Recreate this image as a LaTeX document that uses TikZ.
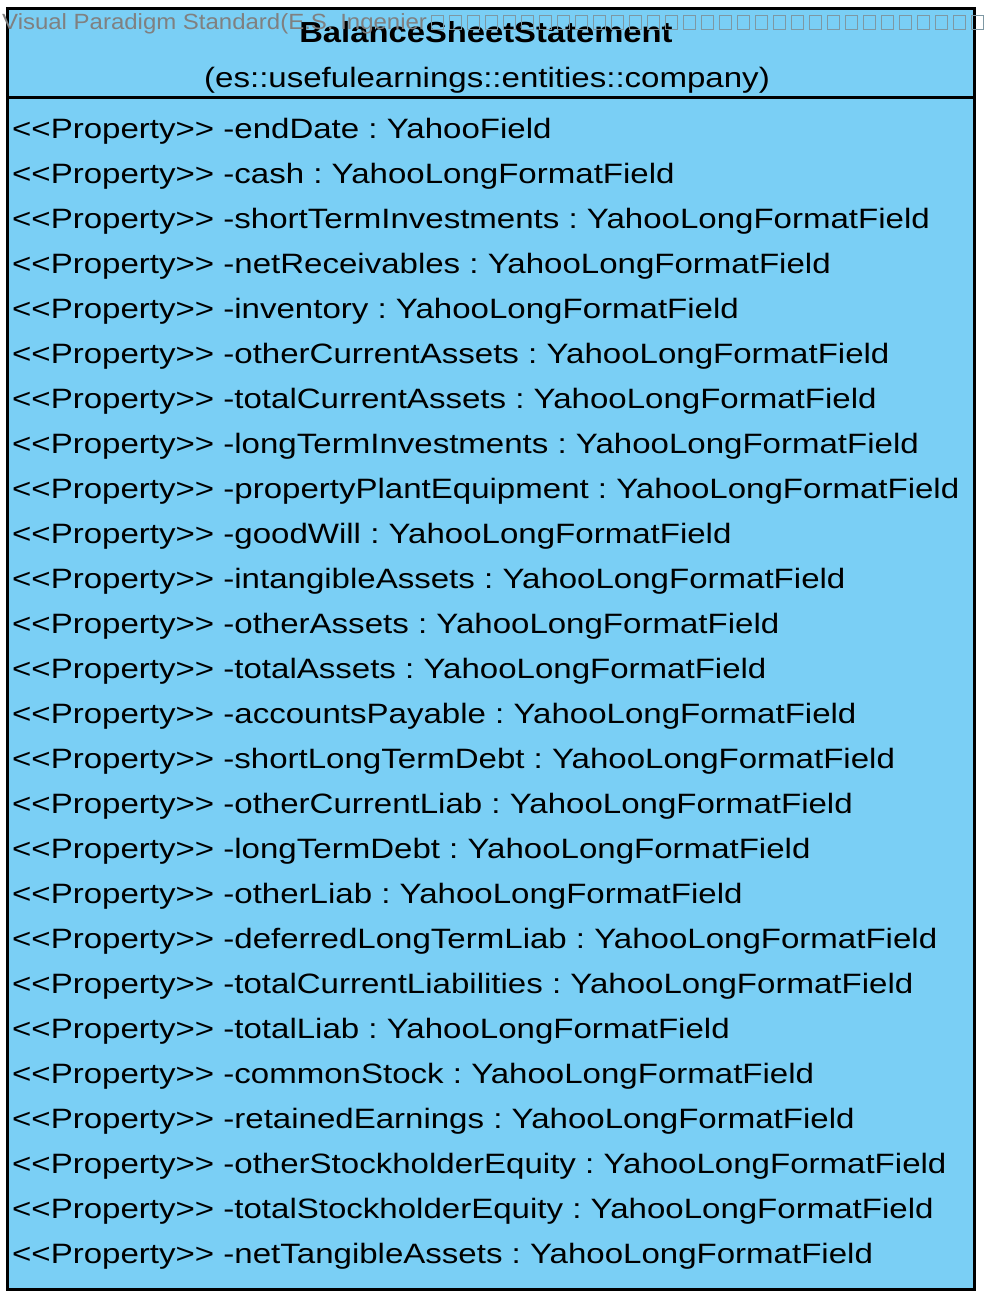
\documentclass[tikz,border=0pt]{standalone}
\usepackage{fontspec}
\setmainfont{Liberation Sans}[FakeStretch=1.18]
\newfontfamily\titlefont{Liberation Sans Bold}[FakeStretch=1.13]
\newfontfamily\markfont{Liberation Sans}[FakeStretch=1.09]
\usepackage{tikz}
\frenchspacing

\definecolor{classblue}{HTML}{7ACFF5}
\definecolor{markgray}{HTML}{808080}

\tikzset{
	prop/.style={anchor=base west, inner sep=0pt, font=\fontsize{28}{28}\selectfont},
	tofu/.style={draw=markgray!70!classblue, line width=0.8pt}
}

\begin{document}
\begin{tikzpicture}[x=1pt,y=-1pt]
	\useasboundingbox (0,0) rectangle (987,1302);
	\node[draw=black, fill=classblue, line width=3pt, inner sep=0pt, minimum width=967pt, minimum height=1281pt] (cls) at (491,649) {};
	\draw[line width=3pt] (cls.west |- 0,97) -- (cls.east |- 0,97);
	\node[anchor=base, inner sep=0pt, font=\titlefont\fontsize{29}{29}\selectfont] (title) at (486,42) {BalanceSheetStatement};
	\node[anchor=base, inner sep=0pt, font=\fontsize{28}{28}\selectfont] (pkg) at (487,87) {(es::usefulearnings::entities::company)};
	\node[prop] (endDate) at (12,138)      {<{}<Property>{}> -endDate : YahooField};
	\node[prop] (cash) at (12,183)         {<{}<Property>{}> -cash : YahooLongFormatField};
	\node[prop] (shortInv) at (12,228)     {<{}<Property>{}> -shortTermInvestments : YahooLongFormatField};
	\node[prop] (netRec) at (12,273)       {<{}<Property>{}> -netReceivables : YahooLongFormatField};
	\node[prop] (inventory) at (12,318)    {<{}<Property>{}> -inventory : YahooLongFormatField};
	\node[prop] (otherCA) at (12,363)      {<{}<Property>{}> -otherCurrentAssets : YahooLongFormatField};
	\node[prop] (totalCA) at (12,408)      {<{}<Property>{}> -totalCurrentAssets : YahooLongFormatField};
	\node[prop] (longInv) at (12,453)      {<{}<Property>{}> -longTermInvestments : YahooLongFormatField};
	\node[prop] (ppe) at (12,498)          {<{}<Property>{}> -propertyPlantEquipment : YahooLongFormatField};
	\node[prop] (goodWill) at (12,543)     {<{}<Property>{}> -goodWill : YahooLongFormatField};
	\node[prop] (intangible) at (12,588)   {<{}<Property>{}> -intangibleAssets : YahooLongFormatField};
	\node[prop] (otherAssets) at (12,633)  {<{}<Property>{}> -otherAssets : YahooLongFormatField};
	\node[prop] (totalAssets) at (12,678)  {<{}<Property>{}> -totalAssets : YahooLongFormatField};
	\node[prop] (payable) at (12,723)      {<{}<Property>{}> -accountsPayable : YahooLongFormatField};
	\node[prop] (shortDebt) at (12,768)    {<{}<Property>{}> -shortLongTermDebt : YahooLongFormatField};
	\node[prop] (otherCL) at (12,813)      {<{}<Property>{}> -otherCurrentLiab : YahooLongFormatField};
	\node[prop] (longDebt) at (12,858)     {<{}<Property>{}> -longTermDebt : YahooLongFormatField};
	\node[prop] (otherLiab) at (12,903)    {<{}<Property>{}> -otherLiab : YahooLongFormatField};
	\node[prop] (deferred) at (12,948)     {<{}<Property>{}> -deferredLongTermLiab : YahooLongFormatField};
	\node[prop] (totalCL) at (12,993)      {<{}<Property>{}> -totalCurrentLiabilities : YahooLongFormatField};
	\node[prop] (totalLiab) at (12,1038)   {<{}<Property>{}> -totalLiab : YahooLongFormatField};
	\node[prop] (common) at (12,1083)      {<{}<Property>{}> -commonStock : YahooLongFormatField};
	\node[prop] (retained) at (12,1128)    {<{}<Property>{}> -retainedEarnings : YahooLongFormatField};
	\node[prop] (otherSE) at (12,1173)     {<{}<Property>{}> -otherStockholderEquity : YahooLongFormatField};
	\node[prop] (totalSE) at (12,1218)     {<{}<Property>{}> -totalStockholderEquity : YahooLongFormatField};
	\node[prop] (netTangible) at (12,1263) {<{}<Property>{}> -netTangibleAssets : YahooLongFormatField};
	% watermark
	\node[anchor=base west, inner sep=0pt, text=markgray, font=\markfont\fontsize{22}{22}\selectfont] (mark) at (2,29) {Visual Paradigm Standard(E.S. Ingenier};
	\foreach \i in {0,...,30}
		\draw[tofu] (431+18*\i,15) rectangle ++(12,14);
\end{tikzpicture}
\end{document}
